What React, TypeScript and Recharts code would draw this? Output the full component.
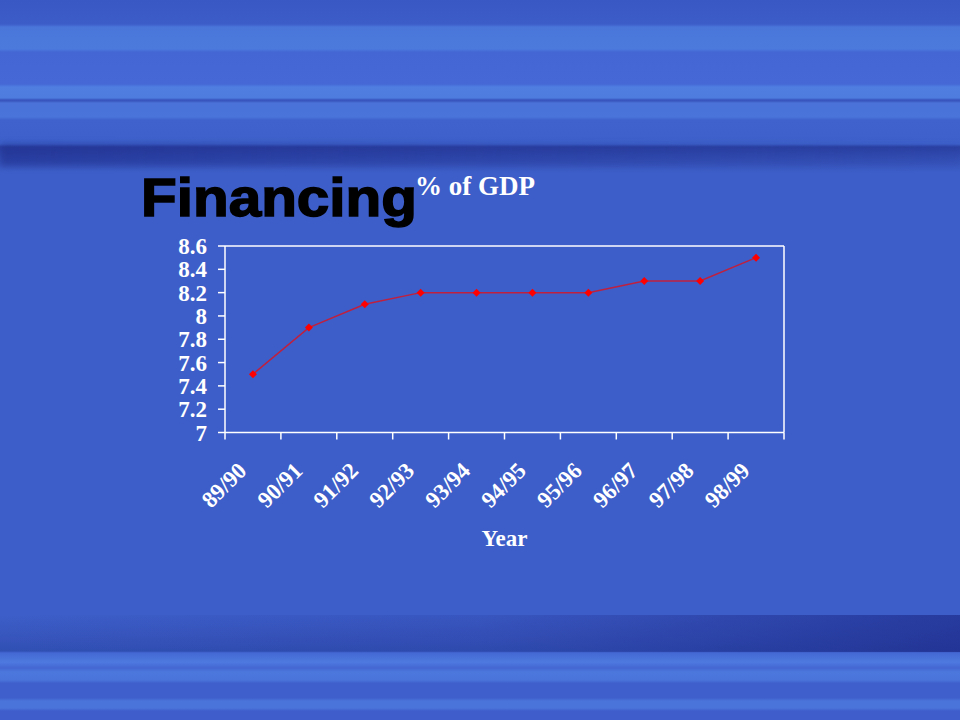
import React from "react"
import { ComposedChart, Line, XAxis, YAxis, Label } from "recharts"

const years = ["89/90", "90/91", "91/92", "92/93", "93/94", "94/95", "95/96", "96/97", "97/98", "98/99"]
const financing = [7.5, 7.9, 8.1, 8.2, 8.2, 8.2, 8.2, 8.3, 8.3, 8.5]
const yTicks = [7, 7.2, 7.4, 7.6, 7.8, 8, 8.2, 8.4, 8.6]
const boundaryTicks = [0, 1, 2, 3, 4, 5, 6, 7, 8, 9, 10]

const data = years.map((year, i) => ({ year, pos: i + 0.5, value: financing[i] }))

const serif = "'Liberation Serif', 'Times New Roman', serif"

const topStripes =
  "linear-gradient(to bottom, #3a58c4 0px, #3c5cc8 24px, #4a76da 27px, #4b7adc 49px, #4466d4 52px, #4568d6 84px, #4f7ee0 87px, #4d7bde 98px, #3753bd 100px, #3a57c0 101px, #4a72d8 103px, #4a74da 117px, #3f62cc 120px, #3d60ca 144px, #2c42a4 147px, #3450b6 158px, #3d5ec8 172px, #3d5ec8 615px, #3654bb 640px, #3050b4 651px, #4468d4 653px, #4a74da 659px, #4e7ae0 662px, #4466d2 668px, #4c78dc 672px, #4a74da 680px, #3f60cc 683px, #3f60cc 698px, #4a74da 701px, #4a74da 708px, #3f5ecb 711px, #3f5ecb 720px)"

function YearTick(props: any) {
  const { x, y, payload } = props
  return (
    <g transform={`translate(${x},${y})`}>
      <text
        x={0}
        y={0}
        transform="translate(-5,31) rotate(-45)"
        textAnchor="end"
        fill="#ffffff"
        fontFamily={serif}
        fontWeight="bold"
        fontSize={23}
      >
        {payload.value}
      </text>
    </g>
  )
}

function Diamond(props: any) {
  const { cx, cy } = props
  if (cx == null || cy == null) return null
  return <path d={`M${cx},${cy - 4} L${cx + 4},${cy} L${cx},${cy + 4} L${cx - 4},${cy} Z`} fill="#ff0000" />
}

export default function App() {
  return (
    <div
      style={{
        position: "absolute",
        left: 0,
        top: 0,
        width: 960,
        height: 720,
        background: topStripes,
        overflow: "hidden",
      }}
    >
      {/* shadow under the top stripes, darker on the left */}
      <div
        style={{
          position: "absolute",
          left: 0,
          top: 144,
          width: 960,
          height: 22,
          background: "linear-gradient(to right, rgba(30,45,140,0.55), rgba(30,45,140,0.1))",
          filter: "blur(3px)",
        }}
      />
      {/* shadow above the bottom stripes, darker on the right */}
      <div
        style={{
          position: "absolute",
          left: 0,
          top: 615,
          width: 960,
          height: 37,
          background: "linear-gradient(to right, rgba(30,40,140,0), rgba(30,40,140,0.15) 50%, rgba(25,35,130,0.6))",
        }}
      />
      <svg width={960} height={720} style={{ position: "absolute", left: 0, top: 0 }}>
        <text
          x={141}
          y={216}
          fontFamily="'Liberation Sans', Arial, sans-serif"
          fontWeight="bold"
          fontSize={53}
          fill="#000000"
          stroke="#000000"
          strokeWidth={1.5}
          textLength={276}
          lengthAdjust="spacingAndGlyphs"
        >
          Financing
        </text>
        <text x={415} y={195} fontFamily={serif} fontWeight="bold" fontSize={27} fill="#ffffff">
          % of GDP
        </text>
      </svg>
      <div style={{ position: "absolute", left: 0, top: 0 }}>
        <ComposedChart width={960} height={720} data={data} margin={{ top: 245, right: 175, bottom: 167, left: 0 }}>
          <XAxis
            xAxisId="b"
            dataKey="year"
            type="category"
            scale="band"
            interval={0}
            height={120}
            axisLine={false}
            tickLine={false}
            tick={<YearTick />}
          >
            <Label
              value="Year"
              position="insideBottom"
              offset={7}
              fill="#ffffff"
              fontFamily={serif}
              fontWeight="bold"
              fontSize={23}
            />
          </XAxis>
          <XAxis
            xAxisId="a"
            dataKey="pos"
            type="number"
            domain={[0, 10]}
            ticks={boundaryTicks}
            interval={0}
            height={0.5}
            tick={{ fill: "none", fontSize: 1 }}
            tickFormatter={() => ""}
            tickSize={7}
            stroke="#ffffff"
            strokeWidth={1.5}
            axisLine={{ stroke: "#ffffff", strokeWidth: 1.5 }}
            tickLine={{ stroke: "#ffffff", strokeWidth: 1.5 }}
          />
          <XAxis
            xAxisId="top"
            orientation="top"
            height={1}
            tick={false}
            tickLine={false}
            stroke="#ffffff"
            axisLine={{ stroke: "#ffffff", strokeWidth: 1.5 }}
          />
          <YAxis
            yAxisId="left"
            width={225}
            domain={[7, 8.6]}
            ticks={yTicks}
            interval={0}
            tickSize={7}
            tickMargin={11}
            stroke="#ffffff"
            axisLine={{ stroke: "#ffffff", strokeWidth: 1.5 }}
            tickLine={{ stroke: "#ffffff", strokeWidth: 1.5 }}
            tick={{ fill: "#ffffff", fontFamily: serif, fontWeight: "bold", fontSize: 23 }}
          />
          <YAxis
            yAxisId="right"
            orientation="right"
            width={1}
            tick={false}
            tickLine={false}
            stroke="#ffffff"
            axisLine={{ stroke: "#ffffff", strokeWidth: 1.5 }}
          />
          <Line
            xAxisId="a"
            yAxisId="left"
            dataKey="value"
            stroke="#c0203e"
            strokeWidth={1.5}
            dot={<Diamond />}
            isAnimationActive={false}
          />
        </ComposedChart>
      </div>
    </div>
  )
}
